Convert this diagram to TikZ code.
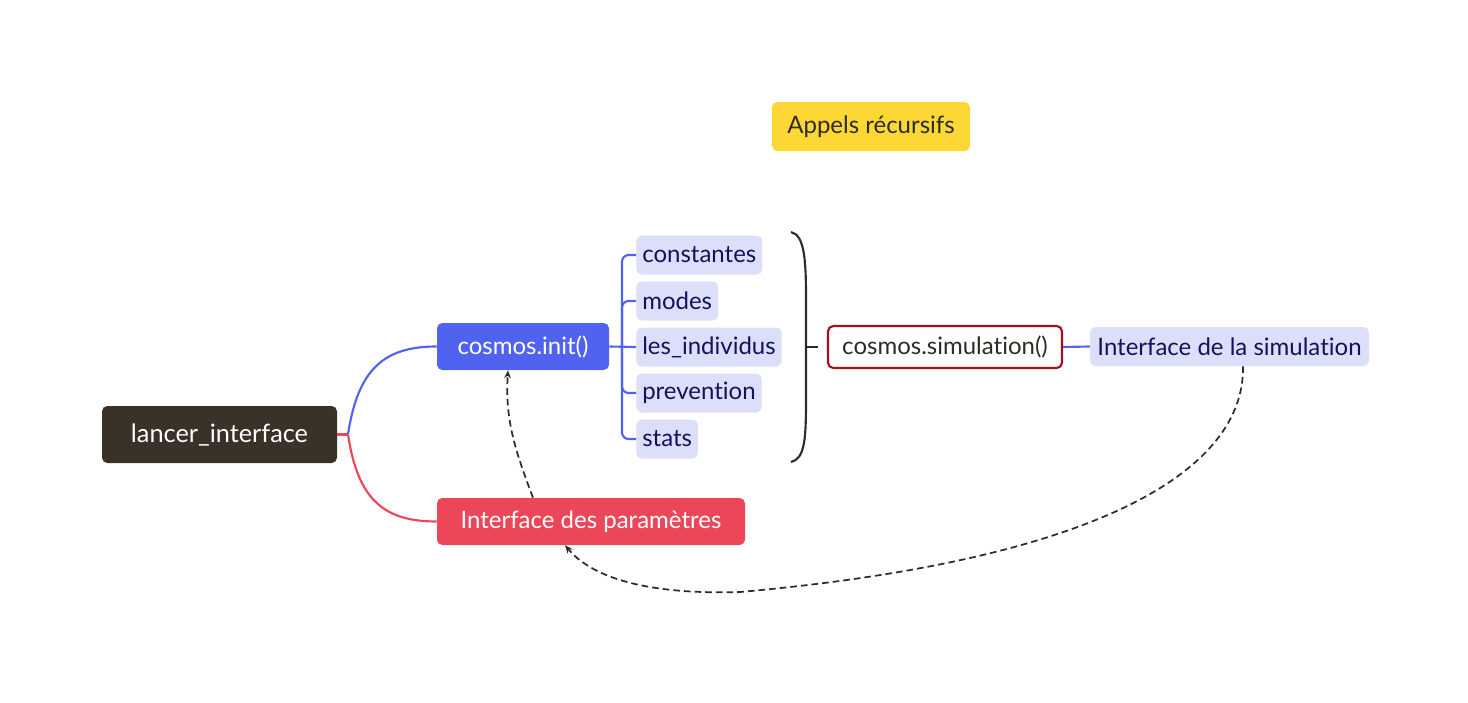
\documentclass[tikz,border=0pt]{standalone}
\usepackage{fontspec}
\setmainfont{Lato}[Ligatures=NoCommon]
\usetikzlibrary{arrows.meta}

\definecolor{rootbrown}{HTML}{3A3128}
\definecolor{initblue}{HTML}{4F63F0}
\definecolor{paramred}{HTML}{EB4759}
\definecolor{leaflav}{HTML}{DCDFFA}
\definecolor{leafnavy}{HTML}{10145A}
\definecolor{simred}{HTML}{A50F1E}
\definecolor{recyellow}{HTML}{FDD835}
\definecolor{inkdark}{HTML}{2F2B26}

\tikzset{
    box/.style={rounded corners=4pt, inner sep=0pt, font=\fontsize{18}{20}\selectfont},
    mainbox/.style={box, text=white, minimum height=35.25pt},
    leaf/.style={box, fill=leaflav, text=leafnavy, anchor=west, inner xsep=4.5pt,
        minimum height=29.25pt},
    link/.style={line width=1.6pt},
    recall/.style={draw=inkdark, line width=1.3pt, dash pattern=on 5pt off 3pt,
        -{Stealth[length=6pt,width=5pt]}},
}

\begin{document}
\begin{tikzpicture}[x=0.75pt, y=-0.75pt]

    \useasboundingbox (0,0) rectangle (1468,703);

    % main branch
    \node[mainbox, fill=rootbrown, minimum width=176.25pt, minimum height=42.75pt,
        font=\fontsize{19}{21}\selectfont] (lancer) at (219.5,434.5) {lancer\_interface};
    \node[mainbox, fill=initblue, minimum width=129pt] (init) at (523,346.5) {cosmos.init()};
    \node[mainbox, fill=paramred, minimum width=231pt] (param) at (591,521.5)
        {Interface des paramètres};
    \coordinate (split) at (348,434.5);

    \draw[paramred, link] (lancer.east) -- (split);
    \draw[initblue, link] (split) .. controls (358,368) and (385,346.5) .. (init.west);
    \draw[paramred, link] (split) .. controls (358,501) and (385,521.5) .. (param.west);

    % leaves of cosmos.init()
    \node[leaf] (const) at (636,255) {constantes};
    \node[leaf] (modes) at (636,301) {modes};
    \node[leaf] (indiv) at (636,347) {les\_individus};
    \node[leaf] (prev)  at (636,393) {prevention};
    \node[leaf] (stats) at (636,439) {stats};
    \coordinate (fork) at (622,347);

    \draw[initblue, link] (init.east) -- (indiv.west);
    \foreach \leafname in {const,modes,prev,stats}
        \draw[initblue, link, rounded corners=5pt] (fork) |- (\leafname.west);

    % brace
    \coordinate (bracetip) at (818,347);
    \draw[inkdark, link] (791,232) .. controls (805,235) and (806,262) .. (806,300)
        -- (806,400) .. controls (806,438) and (805,459) .. (791,462);
    \draw[inkdark, link] (806,347) -- (bracetip);

    % simulation
    \node[box, draw=simred, link, fill=white, text=inkdark, minimum width=175.5pt,
        minimum height=31.5pt] (sim) at (945,347) {cosmos.simulation()};
    \node[box, fill=leaflav, text=leafnavy, minimum width=209.25pt, minimum height=29.25pt]
        (simui) at (1229.5,346.5) {Interface de la simulation};
    \draw[initblue, link] (sim.east) -- (simui.west);

    \node[box, fill=recyellow, text=inkdark, minimum width=148.5pt, minimum height=36.75pt]
        (rec) at (871,126.5) {Appels récursifs};

    % recursive calls
    \draw[recall] (param.north -| 533,0) .. controls (515,450) and (505,420)
        .. (init.south -| 508,0);
    \draw[recall] (simui.south -| 1243,0) .. controls (1245,470) and (1100,560)
        .. (740,592) .. controls (640,595) and (590,575) .. (param.south -| 565,0);

\end{tikzpicture}
\end{document}
